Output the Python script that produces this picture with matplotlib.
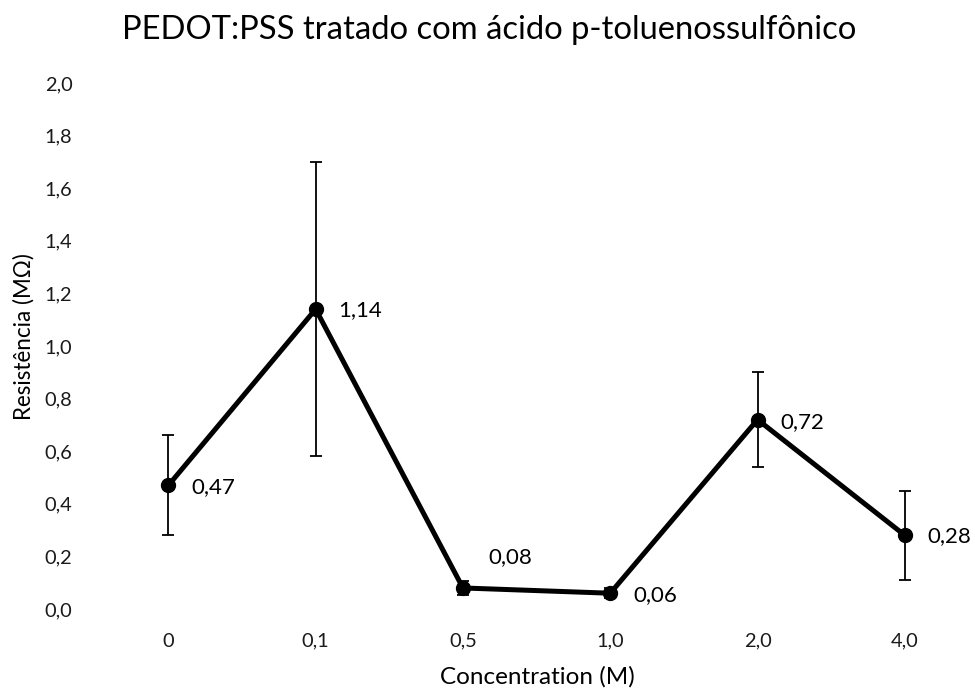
import matplotlib
matplotlib.use("Agg")
import matplotlib.pyplot as plt

# ---- data ----
categories = ["0", "0,1", "0,5", "1,0", "2,0", "4,0"]
resistance = [0.47, 1.14, 0.08, 0.06, 0.72, 0.28]
errors = [0.19, 0.56, 0.025, 0.02, 0.18, 0.17]
value_labels = ["0,47", "1,14", "0,08", "0,06", "0,72", "0,28"]
yticks = [0.0, 0.2, 0.4, 0.6, 0.8, 1.0, 1.2, 1.4, 1.6, 1.8, 2.0]
ytick_labels = ["0,0", "0,2", "0,4", "0,6", "0,8", "1,0", "1,2", "1,4", "1,6", "1,8", "2,0"]
title = "PEDOT:PSS tratado com ácido p-toluenossulfônico"
xlabel = "Concentration (M)"
ylabel = "Resistência (MΩ)"

FONT = ["Lato", "DejaVu Sans"]
plt.rcParams["font.family"] = FONT

W, H = 975, 690
fig = plt.figure(figsize=(W / 100, H / 100), dpi=100)
ax = fig.add_axes([94.7 / W, 81 / H, 883.8 / W, 526 / H])

x = list(range(len(categories)))
ax.errorbar(x, resistance, yerr=errors, fmt="none", ecolor="black",
            elinewidth=1.3, capsize=4, capthick=1.3, zorder=2)
ax.plot(x, resistance, color="black", lw=3.6, marker="o", ms=10,
        solid_joinstyle="miter", zorder=3)

ax.set_xlim(-0.5, len(categories) - 0.5)
ax.set_ylim(0, 2.0)
ax.set_xticks(x, categories)
ax.set_yticks(yticks, ytick_labels)
for s in ax.spines.values():
    s.set_visible(False)
ax.tick_params(axis="both", length=0, labelsize=14, colors="#1a1a1a")
ax.tick_params(axis="y", pad=16)
ax.tick_params(axis="x", pad=17)

offsets = [(23, -2), (23, -1), (25, 31), (23, -2), (23, -2), (23, -1)]
anns = []
for xi, v, lab, off in zip(x, resistance, value_labels, offsets):
    anns.append(ax.annotate(lab, (xi, v), xytext=off, textcoords="offset pixels",
                            ha="left", va="center", fontsize=16, color="black"))

t_title = fig.text(489 / W, 1 - 39 / H, title, ha="center", va="baseline",
                   fontsize=22, color="black")
t_xl = fig.text(537 / W, 1 - 677 / H, xlabel, ha="center", va="center",
                fontsize=15, color="black")
t_yl = fig.text(24 / W, 1 - 337 / H, ylabel, ha="center", va="center",
                rotation=90, fontsize=15, color="black")

# fit font sizes to the measured text widths of the reference
fig.canvas.draw()
r = fig.canvas.get_renderer()

def fit(t, target, vertical=False):
    bb = t.get_window_extent(r)
    cur = bb.height if vertical else bb.width
    t.set_fontsize(t.get_fontsize() * target / cur)

fit(t_title, 732)
fit(t_xl, 195)
fit(t_yl, 168, vertical=True)
bb = anns[0].get_window_extent(r)
dsize = anns[0].get_fontsize() * 44 / bb.width
for a in anns:
    a.set_fontsize(dsize)
lab = ax.get_xticklabels()[1]
bb = lab.get_window_extent(r)
tsize = 14 * 27.7 / bb.width
ax.tick_params(axis="both", labelsize=tsize)

fig.savefig("out.png", dpi=100, facecolor="white")
